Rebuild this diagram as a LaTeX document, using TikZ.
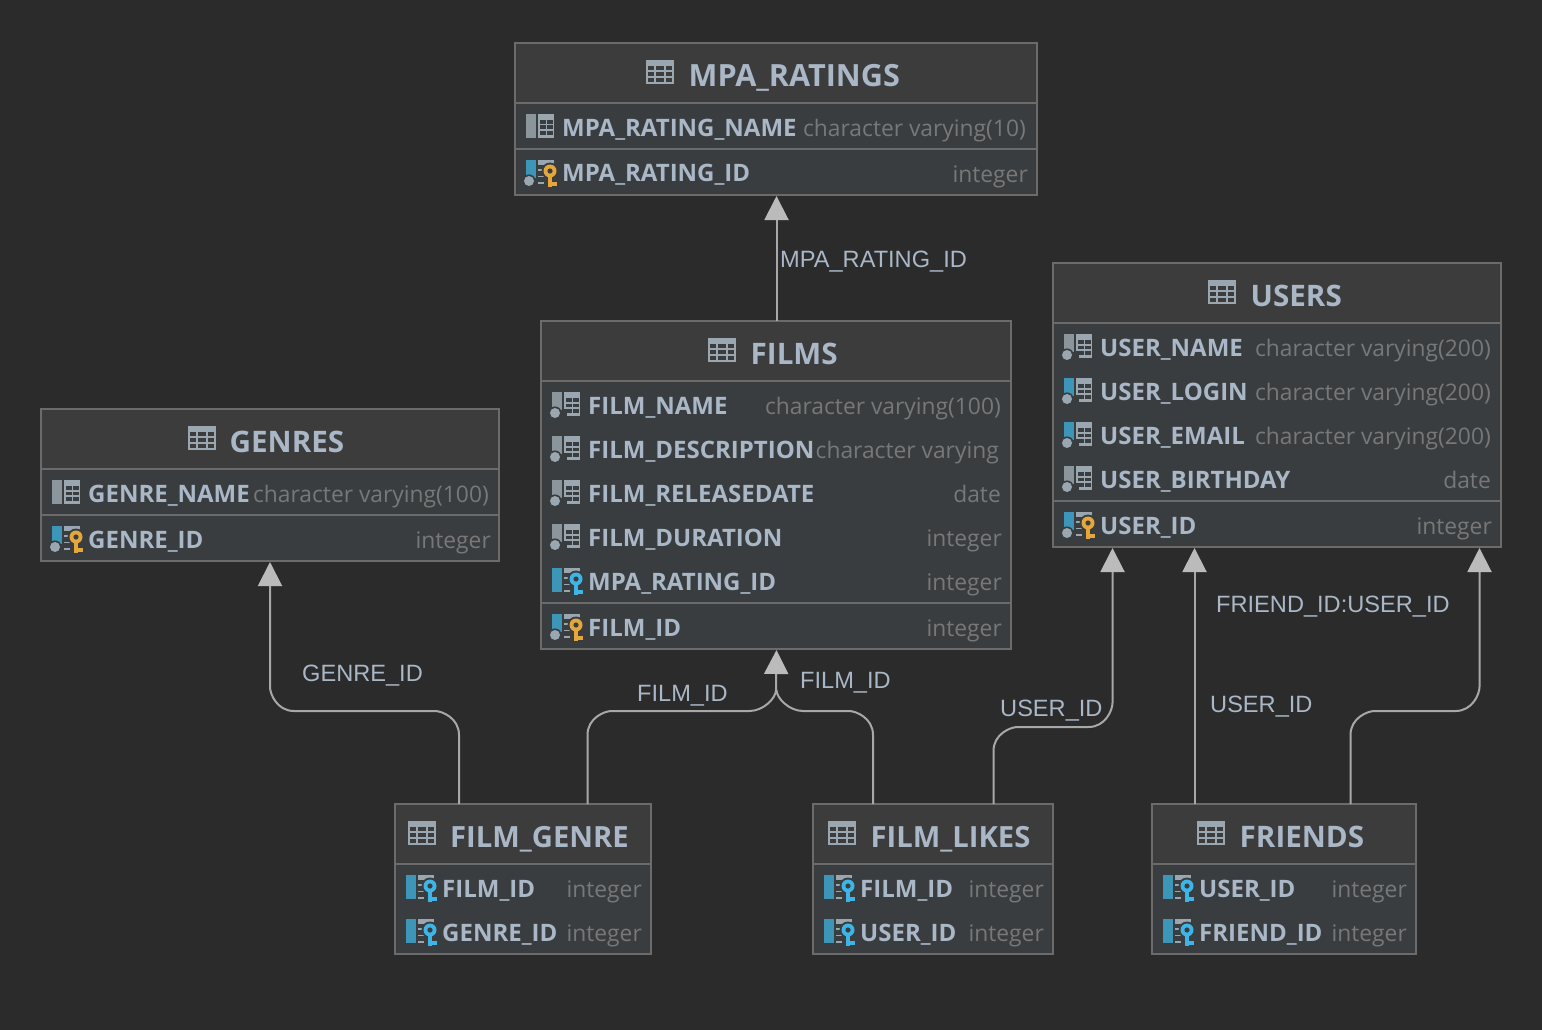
\documentclass[tikz,border=0pt]{standalone}
\usepackage{fontspec}
\setmainfont{Open Sans}
\newfontfamily\lblfont{Liberation Sans}
\usetikzlibrary{arrows.meta}
\definecolor{bgc}{HTML}{2B2B2B}
\definecolor{headc}{HTML}{3C3C3C}
\definecolor{bodyc}{HTML}{3A3D40}
\definecolor{linec}{HTML}{6B6B6B}
\definecolor{txtc}{HTML}{A9B7C6}
\definecolor{typec}{HTML}{787878}
\definecolor{edgec}{HTML}{A8A8A8}
\definecolor{tipc}{HTML}{BBBBBB}
\definecolor{icong}{HTML}{9AA7B0}
\definecolor{bargray}{HTML}{8A959C}
\definecolor{barblue}{HTML}{3D95B8}
\definecolor{keyo}{HTML}{E5A63A}
\definecolor{keyb}{HTML}{3DB5E6}
\newcounter{rowno}
\tikzset{
  x=1pt,y=-1pt,
  tablebox/.style={draw=linec,line width=1.6pt,fill=bodyc,inner sep=0pt,outer sep=0pt,anchor=north west},
  sepline/.style={draw=linec,line width=2pt},
  titletext/.style={anchor=base west,inner sep=0pt,text=txtc,font=\fontsize{29.6}{29.6}\selectfont\bfseries},
  coltext/.style={anchor=base west,inner sep=0pt,text=txtc,font=\fontsize{24}{24}\selectfont\bfseries},
  typetext/.style={anchor=base east,inner sep=0pt,text=typec,font=\fontsize{22.8}{24}\selectfont},
  edgelabel/.style={anchor=base west,inner sep=0pt,text=txtc,font=\fontsize{23.6}{24}\selectfont\lblfont},
  link/.style={draw=edgec,line width=2pt,-{Triangle[length=24pt,width=24pt,fill=tipc,color=tipc]}},
  linkplain/.style={draw=edgec,line width=2pt},
}
% table: name, x0, y0, x1, y1, header bottom
\newcommand\tbl[6]{%
  \fill[headc] (#2,#3) rectangle (#4,#6);
  \node[tablebox,fill=none,minimum width=#4pt-#2pt,minimum height=#5pt-#3pt] (#1) at (#2,#3) {};
  \draw[sepline] (#2,#6) -- (#4,#6);
}
% table icon: x left, y centre
\newcommand\tblicon[2]{%
  \begin{scope}[shift={(#1,#2)}]
    \fill[icong] (0,-12) rectangle (28,12);
    \foreach \yy in {-6,0,6}{
      \fill[headc] (2,\yy) rectangle (8,\yy+4);
      \fill[headc] (10,\yy) rectangle (18,\yy+4);
      \fill[headc] (20,\yy) rectangle (26,\yy+4);
    }
  \end{scope}}
% column icon: x, y centre, bar colour, dot(0/1), key colour or none
\newcommand\colicon[5]{%
  \begin{scope}[shift={(#1,#2)}]
    \ifnum#4=1
      \fill[#3] (0,-12) rectangle (10,6);
    \else
      \fill[#3] (0,-12) rectangle (10,12);
    \fi
    \def\keyname{#5}\def\nonename{none}%
    \ifx\keyname\nonename
      \fill[icong] (12,-12) rectangle (28,12);
      \foreach \yy in {-6,-0.5,5}{
        \fill[bodyc] (13.5,\yy) rectangle (19.5,\yy+3.6);
        \fill[bodyc] (21,\yy) rectangle (26.5,\yy+3.6);
      }
      \ifnum#4=1 \fill[bodyc] (12,5) rectangle (15,12); \fi
    \else
      \fill[icong] (12,-12) rectangle (28,-7);
      \foreach \yy in {-3,3.5,10}{\fill[icong] (12,\yy) rectangle (18,\yy+1.8);}
      \fill[bodyc] (24,-1) circle (8.5);
      \fill[#5] (22,0) rectangle (26,15);
      \fill[#5] (22,9.5) rectangle (30.5,13.5);
      \fill[#5] (24,-1) circle (6.5);
      \fill[bodyc] (24,-1) circle (2.6);
    \fi
    \ifnum#4=1
      \fill[bodyc] (3,9) circle (6.6);
      \fill[icong] (3,9) circle (5);
    \fi
  \end{scope}}
% row: icon x, y centre, bar colour, dot, key, name, type right x, type
\newcommand\colrow[8]{%
  \colicon{#1}{#2}{#3}{#4}{#5}
  \stepcounter{rowno}
  \node[coltext] (n\therowno) at (#1+36,#2+10) {#6};
  \node[typetext] (y\therowno) at (#7,#2+10.5) {#8};
}
\newcommand\ttl[4]{% name, text x, y centre, text
  \node[titletext] (#1) at (#2,#3+11) {#4};
}
\begin{document}
\begin{tikzpicture}
\useasboundingbox[fill=bgc] (0,0) rectangle (1542,1030);

% MPA_RATINGS
\fill[bodyc] (515,103) rectangle (1037,195);
\tbl{mpa}{515}{43}{1037}{195}{103}
\tblicon{646}{72}
\node[titletext,font=\fontsize{30.6}{30}\selectfont\bfseries] (mpatitle) at (688.5,86.5) {MPA\_RATINGS};
\colrow{526}{126}{bargray}{0}{none}{MPA\_RATING\_NAME}{1026}{character varying(10)}
\draw[sepline] (515,149) -- (1037,149);
\colrow{526}{172}{barblue}{1}{keyo}{MPA\_RATING\_ID}{1028}{integer}

% FILMS
\fill[bodyc] (541,381) rectangle (1011,649);
\tbl{films}{541}{321}{1011}{649}{381}
\tblicon{708}{350}
\ttl{filmstitle}{750.5}{353}{FILMS}
\colrow{552}{404}{bargray}{1}{none}{FILM\_NAME}{1001}{character varying(100)}
\colrow{552}{448}{bargray}{1}{none}{FILM\_DESCRIPTION}{999}{character varying}
\colrow{552}{492}{bargray}{1}{none}{FILM\_RELEASEDATE}{1001}{date}
\colrow{552}{536}{bargray}{1}{none}{FILM\_DURATION}{1002}{integer}
\colrow{552}{580}{barblue}{0}{keyb}{MPA\_RATING\_ID}{1002}{integer}
\draw[sepline] (541,603) -- (1011,603);
\colrow{552}{626}{barblue}{1}{keyo}{FILM\_ID}{1002}{integer}

% GENRES
\fill[bodyc] (41,469) rectangle (499,561);
\tbl{genres}{41}{409}{499}{561}{469}
\tblicon{188}{438}
\ttl{genrestitle}{229.5}{441}{GENRES}
\colrow{52}{492}{bargray}{0}{none}{GENRE\_NAME}{489}{character varying(100)}
\draw[sepline] (41,515) -- (499,515);
\colrow{52}{538}{barblue}{1}{keyo}{GENRE\_ID}{491}{integer}

% USERS
\fill[bodyc] (1053,323) rectangle (1501,547);
\tbl{users}{1053}{263}{1501}{547}{323}
\tblicon{1208}{292}
\ttl{userstitle}{1250.5}{295}{USERS}
\colrow{1064}{346}{bargray}{1}{none}{USER\_NAME}{1491}{character varying(200)}
\colrow{1064}{390}{barblue}{1}{none}{USER\_LOGIN}{1491}{character varying(200)}
\colrow{1064}{434}{barblue}{1}{none}{USER\_EMAIL}{1491}{character varying(200)}
\colrow{1064}{478}{bargray}{1}{none}{USER\_BIRTHDAY}{1491}{date}
\draw[sepline] (1053,501) -- (1501,501);
\colrow{1064}{524}{barblue}{1}{keyo}{USER\_ID}{1492}{integer}

% FILM_GENRE
\fill[bodyc] (395,864) rectangle (651,954);
\tbl{fg}{395}{804}{651}{954}{864}
\tblicon{408}{833}
\node[titletext,font=\fontsize{29.2}{30}\selectfont\bfseries] (fgtitle) at (450,847) {FILM\_GENRE};
\colrow{406}{887}{barblue}{0}{keyb}{FILM\_ID}{642}{integer}
\colrow{406}{931}{barblue}{0}{keyb}{GENRE\_ID}{642}{integer}

% FILM_LIKES
\fill[bodyc] (813,864) rectangle (1053,954);
\tbl{fl}{813}{804}{1053}{954}{864}
\tblicon{828}{833}
\node[titletext,font=\fontsize{29.2}{30}\selectfont\bfseries] (fltitle) at (870.5,847) {FILM\_LIKES};
\colrow{824}{887}{barblue}{0}{keyb}{FILM\_ID}{1044}{integer}
\colrow{824}{931}{barblue}{0}{keyb}{USER\_ID}{1044}{integer}

% FRIENDS
\fill[bodyc] (1152,864) rectangle (1416,954);
\tbl{fr}{1152}{804}{1416}{954}{864}
\tblicon{1197}{833}
\ttl{frtitle}{1239.5}{836}{FRIENDS}
\colrow{1163}{887}{barblue}{0}{keyb}{USER\_ID}{1407}{integer}
\colrow{1163}{931}{barblue}{0}{keyb}{FRIEND\_ID}{1407}{integer}

% connectors
\draw[link] ([xshift=0.5pt]films.north) -- ([xshift=0.5pt,yshift=-1pt]mpa.south);
\draw[link] ([xshift=64pt]fg.north west) -- ++(0,-69)
  .. controls +(0,-17) and +(7,0) .. ++(-24,-24) -- ++(-141,0)
  .. controls +(-17,0) and +(0,7) .. ++(-24,-24) -- ([yshift=-1pt]genres.south);
\draw[link] ([xshift=192.5pt]fg.north west) -- ++(0,-69)
  .. controls +(0,-17) and +(-7,0) .. ++(24,-24) -- ++(138,0)
  .. controls +(14,0) and +(0,8) .. ++(26.5,-21) -- ([xshift=0.5pt,yshift=-1pt]films.south);
\draw[linkplain] ([xshift=60pt]fl.north west) -- ++(0,-69)
  .. controls +(0,-17) and +(7,0) .. ++(-24,-24) -- ++(-46,0)
  .. controls +(-14,0) and +(0,8) .. ++(-26.5,-21) coordinate (flj);
\draw[link] ([xshift=180.5pt]fl.north west) -- ++(0,-53)
  .. controls +(0,-17) and +(-7,0) .. ++(24,-24) -- ++(71,0)
  .. controls +(17,0) and +(0,7) .. ++(24,-24) -- ([xshift=59.5pt,yshift=-1pt]users.south west);
\draw[link] ([xshift=42.5pt]fr.north west) -- ([xshift=141.5pt,yshift=-1pt]users.south west);
\draw[link] ([xshift=198.5pt]fr.north west) -- ++(0,-69)
  .. controls +(0,-17) and +(-7,0) .. ++(24,-24) -- ++(81,0)
  .. controls +(17,0) and +(0,7) .. ++(24,-24) -- ([xshift=426.5pt,yshift=-1pt]users.south west);

% connector labels
\node[edgelabel] (l1) at (780,267) {MPA\_RATING\_ID};
\node[edgelabel] (l2) at (302,681) {GENRE\_ID};
\node[edgelabel] (l3) at (637,701) {FILM\_ID};
\node[edgelabel] (l4) at (800,688) {FILM\_ID};
\node[edgelabel] (l5) at (1000,716) {USER\_ID};
\node[edgelabel] (l6) at (1210,712) {USER\_ID};
\node[edgelabel] (l7) at (1216,612) {FRIEND\_ID:USER\_ID};
\end{tikzpicture}
\end{document}
